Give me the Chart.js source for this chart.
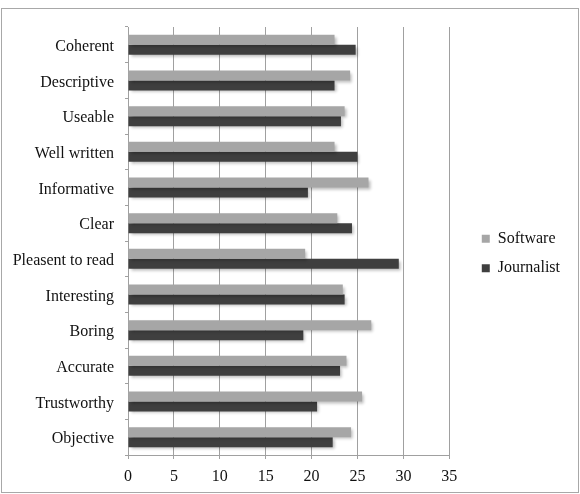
<!DOCTYPE html>
<html>
<head>
<meta charset="utf-8">
<script src="https://cdn.jsdelivr.net/npm/chart.js@4"></script>
<style>
  html, body { margin: 0; padding: 0; background: #fff; }
  #wrap { position: relative; width: 580px; height: 494px; }
  #frame { position: absolute; left: 1px; top: 8px; width: 576px; height: 483px; border: 1px solid #a8a8a8; }
  canvas { position: absolute; left: 0; top: 0; }
</style>
</head>
<body>
<div id="wrap">
  <div id="frame"></div>
  <canvas id="c" width="580" height="494"></canvas>
</div>
<script>
const categories = ["Coherent", "Descriptive", "Useable", "Well written", "Informative", "Clear",
  "Pleasent to read", "Interesting", "Boring", "Accurate", "Trustworthy", "Objective"];
const softwareValues = [22.5, 24.2, 23.6, 22.5, 26.2, 22.8, 19.3, 23.4, 26.5, 23.8, 25.5, 24.3];
const journalistValues = [24.8, 22.5, 23.2, 25.0, 19.6, 24.4, 29.5, 23.6, 19.1, 23.1, 20.6, 22.3];
const xTicks = [0, 5, 10, 15, 20, 25, 30, 35];

const FONT = { family: "'Liberation Serif', serif", size: 16 };

const shadowPlugin = {
  id: 'barShadow',
  beforeDatasetsDraw(chart) {
    const ctx = chart.ctx;
    ctx.save();
    ctx.shadowColor = 'rgba(0,0,0,0.28)';
    ctx.shadowBlur = 3;
    ctx.shadowOffsetX = 2;
    ctx.shadowOffsetY = 2;
  },
  afterDatasetsDraw(chart) {
    chart.ctx.restore();
  }
};

const legendShift = {
  id: 'legendShift',
  afterLayout(chart) {
    const lg = chart.legend;
    if (!lg) return;
    const dx = 19, dy = -7;
    lg.left += dx; lg.right += dx;
    lg.top += dy; lg.bottom += dy;
  }
};

new Chart(document.getElementById('c'), {
  type: 'bar',
  data: {
    labels: categories,
    datasets: [
      { label: 'Software', data: softwareValues, backgroundColor: '#a6a6a6', borderWidth: 0 },
      { label: 'Journalist', data: journalistValues, backgroundColor: '#3f3f3f', borderWidth: 0 }
    ]
  },
  options: {
    indexAxis: 'y',
    responsive: false,
    animation: false,
    devicePixelRatio: 1,
    datasets: { bar: { categoryPercentage: 0.56, barPercentage: 1.0 } },
    layout: { padding: { top: 27, bottom: 0, left: 0, right: 29 } },
    scales: {
      x: {
        min: 0, max: 35,
        afterBuildTicks(scale) { scale.ticks = xTicks.map(v => ({ value: v })); },
        afterFit(scale) { scale.height = 39; },
        grid: { color: '#a0a0a0', lineWidth: 1, drawTicks: true, tickLength: 4, tickColor: '#a0a0a0' },
        border: { color: '#a0a0a0', width: 1 },
        ticks: { color: '#111', font: FONT, padding: 8 }
      },
      y: {
        afterFit(scale) { scale.width = 128; },
        grid: { offset: true, drawOnChartArea: false, drawTicks: true, tickLength: 3, color: '#a0a0a0' },
        border: { color: '#a0a0a0', width: 1 },
        ticks: { color: '#111', font: FONT, padding: 11, labelOffset: 2 }
      }
    },
    plugins: {
      legend: {
        position: 'right',
        labels: { boxWidth: 8, boxHeight: 8, padding: 13.5, color: '#111', font: FONT }
      },
      tooltip: { enabled: false }
    }
  },
  plugins: [shadowPlugin, legendShift]
});
</script>
</body>
</html>
